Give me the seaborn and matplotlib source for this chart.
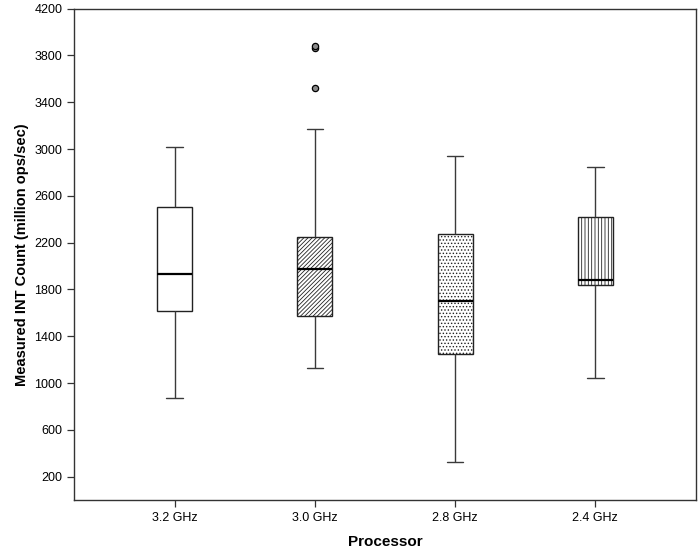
import numpy as np
import pandas as pd
import matplotlib
matplotlib.use("Agg")
import matplotlib.pyplot as plt
import seaborn as sns

# ---- data ----
processors = ["3.2 GHz", "3.0 GHz", "2.8 GHz", "2.4 GHz"]
whisker_low = [872, 1128, 325, 1045]
q1 = [1615, 1573, 1248, 1838]
median = [1931, 1974, 1701, 1878]
q3 = [2506, 2248, 2274, 2416]
whisker_high = [3015, 3171, 2940, 2846]

outlier_proc = ["3.0 GHz", "3.0 GHz", "3.0 GHz"]
outlier_vals = [3524, 3862, 3880]

yticks = [200, 600, 1000, 1400, 1800, 2200, 2600, 3000, 3400, 3800, 4200]
hatches = ["", "////////", ".....", "|||||"]

# build a frame whose quartiles equal the read summary values
rows = []
for p, lo, a, m, b, hi in zip(processors, whisker_low, q1, median, q3, whisker_high):
    for v in (lo, a, a, m, b, b, hi):
        rows.append({"Processor": p, "value": v})
df = pd.DataFrame(rows)
out_df = pd.DataFrame({"Processor": outlier_proc, "value": outlier_vals})

sns.set_theme(style="white")
plt.rcParams["font.family"] = ["Liberation Sans", "DejaVu Sans"]
plt.rcParams["hatch.linewidth"] = 0.6
plt.rcParams["hatch.color"] = "#222222"
plt.rcParams["text.color"] = "black"
plt.rcParams["axes.labelcolor"] = "black"
plt.rcParams["xtick.color"] = "black"
plt.rcParams["ytick.color"] = "black"

fig = plt.figure(figsize=(7, 5.6), dpi=100)
ax = fig.add_axes([74 / 700, 1 - 500 / 560, 622 / 700, (500 - 8.6) / 560])

sns.boxplot(data=df, x="Processor", y="value", order=processors,
            whis=(0, 100), width=0.25, color="white", linecolor="#3a3a3a",
            linewidth=1.0, capwidths=0.12, showfliers=False, ax=ax,
            medianprops=dict(color="black", linewidth=1.6))

for patch, h in zip(ax.patches, hatches):
    patch.set_hatch(h)
    patch.set_facecolor("white")
    patch.set_edgecolor("#222222")

sns.stripplot(data=out_df, x="Processor", y="value", order=processors,
              jitter=False, marker="o", size=4.5, color="#8a8a8a",
              edgecolor="black", linewidth=0.9, ax=ax)

ax.set_xlim(-0.72, 3.72)
ax.set_ylim(0, 4200)
ax.set_yticks(yticks)
ax.set_yticklabels([str(t) for t in yticks])
ax.tick_params(axis="both", which="major", direction="out", length=5,
               width=0.9, color="#333333", labelcolor="black", labelsize=9,
               left=True, bottom=True)
for s in ax.spines.values():
    s.set_visible(True)
    s.set_color("#333333")
    s.set_linewidth(1.0)

ax.set_xlabel("Processor", fontsize=11, fontweight="bold", labelpad=8)
ax.set_ylabel("Measured INT Count (million ops/sec)", fontsize=10.5,
              fontweight="bold", labelpad=4)

fig.savefig("out.png", dpi=100)
